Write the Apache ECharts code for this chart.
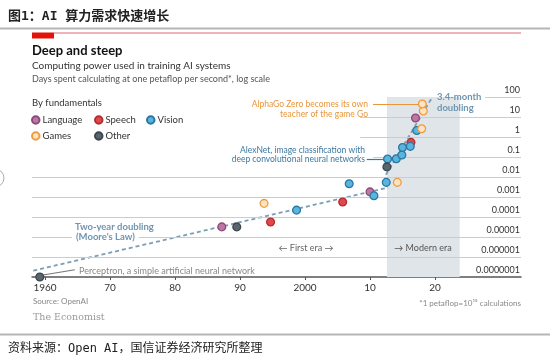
<!DOCTYPE html>
<html><head><meta charset="utf-8">
<script src="https://cdn.jsdelivr.net/npm/echarts@6/dist/echarts.min.js"></script>
<style>html,body{margin:0;padding:0;background:#fff}#c{width:550px;height:363px}</style>
</head><body><div id="c"></div>
<script>
// ---- data ----
const yTicks = [1e-7, 1e-6, 1e-5, 1e-4, 1e-3, 1e-2, 1e-1, 1, 10, 100];
const yTickLabels = ['0.0000001','0.000001','0.00001','0.0001','0.001','0.01','0.1','1','10','100'];
const xTickYears = [1960, 1970, 1980, 1990, 2000, 2010, 2020];
const xTickLabels = ['1960','70','80','90','2000','10','20'];

const languageYears = [1987.2, 2010.0, 2017.0];
const languageValues = [3.2e-5, 1.8e-3, 8.9];
const speechYears = [1994.7, 2005.8, 2016.3];
const speechValues = [5.6e-5, 5.6e-4, 0.54];
const visionYears = [1998.7, 2006.8, 2010.6, 2012.5, 2012.7, 2014.05, 2014.9, 2015.0, 2016.2, 2017.2];
const visionValues = [2.2e-4, 4.6e-3, 1.16e-3, 5.4e-3, 0.079, 0.082, 0.126, 0.30, 0.34, 2.1];
const gamesYears = [1993.7, 2014.2, 2017.95, 2018.2, 2018.05];
const gamesValues = [4.8e-4, 5.4e-3, 2.6, 20, 45];
const otherYears = [1959.2, 1989.5, 2012.6];
const otherValues = [1e-7, 3.2e-5, 0.032];

const mooreYears = [1958.2, 2012.8];
const mooreValues = [2.07e-7, 3.0e-3];
const modernYears = [2012.45, 2019.6];
const modernValues = [0.013, 100];
const modernEra = [2012.6, 2023.8];

// ---- chart ----
const FONT = 'Lato, "Open Sans", sans-serif';
const zip = (a, b) => a.map((v, i) => [v, b[i]]);
const X_MIN = 1958, X_MAX = 2033.23;

function gridStart(v) {
  if (v >= 100) return 2027.7;
  if (v >= 1) return 2008.5;
  if (v >= 0.1) return 2010.5;
  return X_MIN;
}
const gridLines = yTicks.filter(v => v > 1e-7).map(v => [{coord: [gridStart(v), v]}, {coord: [X_MAX, v]}]);

function scatter(name, xs, ys, fill, border) {
  return {
    name, type: 'scatter', data: zip(xs, ys), symbol: 'circle', symbolSize: 7.8, clip: false, z: 5,
    itemStyle: {color: fill, borderColor: border, borderWidth: 1.3, opacity: 1}
  };
}
function legend(name, left, top) {
  return {data: [name], left, top, padding: 0, icon: 'circle', itemWidth: 7.5, itemHeight: 7.5,
    selectedMode: false, textStyle: {fontSize: 9.5, color: '#333', fontFamily: FONT, padding: [0, 0, 0, -2]}};
}
function txt(x, y, text, style) {
  return {type: 'text', x, y, z: 100, style: Object.assign({text, fontFamily: FONT, textVerticalAlign: 'middle'}, style)};
}

const chart = echarts.init(document.getElementById('c'), null, {renderer: 'canvas'});
const leadColorAlpha = '#e8963a', leadColorAlex = '#3b78a0';
const blueText = '#6f95b0';
chart.setOption({
  animation: false,
  grid: {left: 32, right: 29, top: 97, bottom: 86},
  xAxis: {
    type: 'value', min: X_MIN, max: X_MAX, splitLine: {show: false},
    axisLine: {lineStyle: {color: '#555', width: 1.5}},
    axisTick: {customValues: xTickYears, length: 3, lineStyle: {color: '#555'}},
    axisLabel: {customValues: xTickYears, formatter: v => xTickLabels[xTickYears.indexOf(Math.round(v))],
      color: '#333', fontSize: 10, fontFamily: FONT, margin: 6}
  },
  yAxis: {
    type: 'log', logBase: 10, min: 1e-7, max: 100, interval: 1, position: 'right',
    axisLine: {show: false}, axisTick: {show: false}, splitLine: {show: false},
    axisLabel: {inside: true, margin: 1, verticalAlign: 'bottom', padding: [0, 0, 2, 0],
      formatter: v => yTickLabels[Math.round(Math.log10(v)) + 7], color: '#333', fontSize: 9, fontFamily: FONT}
  },
  legend: [legend('Language', 31, 115), legend('Speech', 94, 115), legend('Vision', 146, 115),
           legend('Games', 31, 131), legend('Other', 94, 131)],
  series: [
    {type: 'line', data: [], z: 1, silent: true,
      markArea: {silent: true, itemStyle: {color: '#e0e5e9'},
        data: [[{coord: [modernEra[0], 1e-7]}, {coord: [modernEra[1], 100]}]]}},
    {type: 'line', data: [], z: 2, silent: true,
      markLine: {silent: true, symbol: 'none', label: {show: false}, lineStyle: {color: '#c9cdd0', width: 1, type: 'solid'},
        data: gridLines}},
    {type: 'line', data: [], z: 4, silent: true,
      markLine: {silent: true, symbol: 'none', label: {show: false},
        data: [
          [{coord: [2010.46, gamesValues[4]], lineStyle: {color: leadColorAlpha, width: 1.2, type: 'solid'}}, {coord: [2017.5, gamesValues[4]]}],
          [{coord: [2009.5, visionValues[4]], lineStyle: {color: leadColorAlex, width: 1.2, type: 'solid'}}, {coord: [2012.2, visionValues[4]]}],
          [{coord: [1959.7, 1.25e-7], lineStyle: {color: '#777', width: 1.1, type: 'solid'}}, {coord: [1964.6, 2.3e-7]}]
        ]}},
    {type: 'line', data: zip(mooreYears, mooreValues), symbol: 'none', z: 3, silent: true,
      lineStyle: {color: '#7d9db2', width: 1.8, type: [4, 3]}},
    {type: 'line', data: zip(modernYears, modernValues), symbol: 'none', z: 3, silent: true, clip: false,
      lineStyle: {color: '#7d9db2', width: 1.8, type: [4, 3]}},
    scatter('Language', languageYears, languageValues, '#bd77a3', '#8d4a7a'),
    scatter('Speech', speechYears, speechValues, '#e3474b', '#b02e34'),
    scatter('Vision', visionYears, visionValues, '#5ab5dd', '#2a77a3'),
    scatter('Games', gamesYears, gamesValues, '#fde3c2', '#ee9c40'),
    scatter('Other', otherYears, otherValues, '#58676d', '#3b484e')
  ],
  graphic: [
    {type: 'text', x: 8, y: 16.5, z: 100, style: {text: '图1：AI 算力需求快速增长', fontSize: 13, fontWeight: 'bold',
      fontFamily: '"DejaVu Sans Mono","Noto Sans CJK SC",sans-serif', fill: '#222', textVerticalAlign: 'middle'}},
    {type: 'line', z: 100, shape: {x1: 0, y1: 28.5, x2: 550, y2: 28.5}, style: {stroke: '#b5b5b5', lineWidth: 2}},
    {type: 'rect', z: 100, shape: {x: 32, y: 32.5, width: 22, height: 6}, style: {fill: '#e3120b'}},
    {type: 'line', z: 100, shape: {x1: 54, y1: 33, x2: 521, y2: 33}, style: {stroke: '#e06a76', lineWidth: 1.2}},
    txt(32, 50.5, 'Deep and steep', {fontSize: 13, fontWeight: 'bold', fill: '#111'}),
    txt(32, 66, 'Computing power used in training AI systems', {fontSize: 10, fill: '#333'}),
    txt(32, 79.3, 'Days spent calculating at one petaflop per second*, log scale', {fontSize: 9, fill: '#555'}),
    txt(32, 103, 'By fundamentals', {fontSize: 9.5, fill: '#333'}),
    txt(368, 109.5, 'AlphaGo Zero becomes its own\nteacher of the game Go', {fontSize: 8.5, lineHeight: 9.5, fill: '#e8963a', align: 'right'}),
    txt(365, 155, 'AlexNet, image classification with\ndeep convolutional neural networks', {fontSize: 8.5, lineHeight: 9, fill: '#3b78a0', align: 'right'}),
    txt(437, 102.3, '3.4-month\ndoubling', {fontSize: 9.5, lineHeight: 11.3, fontWeight: 'bold', fill: blueText}),
    txt(75, 227.3, 'Two-year doubling', {fontSize: 9.5, fontWeight: 'bold', fill: blueText}),
    txt(72, 237.3, "(Moore's Law)", {fontSize: 9.5, fontWeight: 'bold', fill: blueText, backgroundColor: '#fff', padding: [1, 4, 1, 4]}),
    txt(306, 248, '← First era →', {fontSize: 9, fill: '#666', align: 'center'}),
    txt(423, 248, '→ Modern era', {fontSize: 9, fill: '#555', align: 'center'}),
    txt(79, 270.7, 'Perceptron, a simple artificial neural network', {fontSize: 9, fill: '#888'}),
    txt(33, 301.7, 'Source: OpenAI', {fontSize: 8, fill: '#888'}),
    txt(33, 317.3, 'The Economist', {fontSize: 9.5, fontFamily: '"DejaVu Serif","Liberation Serif",serif', fill: '#999'}),
    txt(521, 303.3, '*1 petaflop=10¹⁵ calculations', {fontSize: 8, fill: '#888', align: 'right'}),
    {type: 'line', z: 100, shape: {x1: 0, y1: 334.5, x2: 550, y2: 334.5}, style: {stroke: '#b5b5b5', lineWidth: 2}},
    {type: 'text', x: 8, y: 349, z: 100, style: {text: '资料来源：Open AI，国信证券经济研究所整理', fontSize: 12,
      fontFamily: '"DejaVu Sans Mono","Noto Sans CJK SC",sans-serif', fill: '#222', textVerticalAlign: 'middle'}},
    {type: 'circle', z: 100, shape: {cx: -5, cy: 178, r: 9}, style: {fill: 'none', stroke: '#aaa', lineWidth: 1}}
  ]
});
</script></body></html>
